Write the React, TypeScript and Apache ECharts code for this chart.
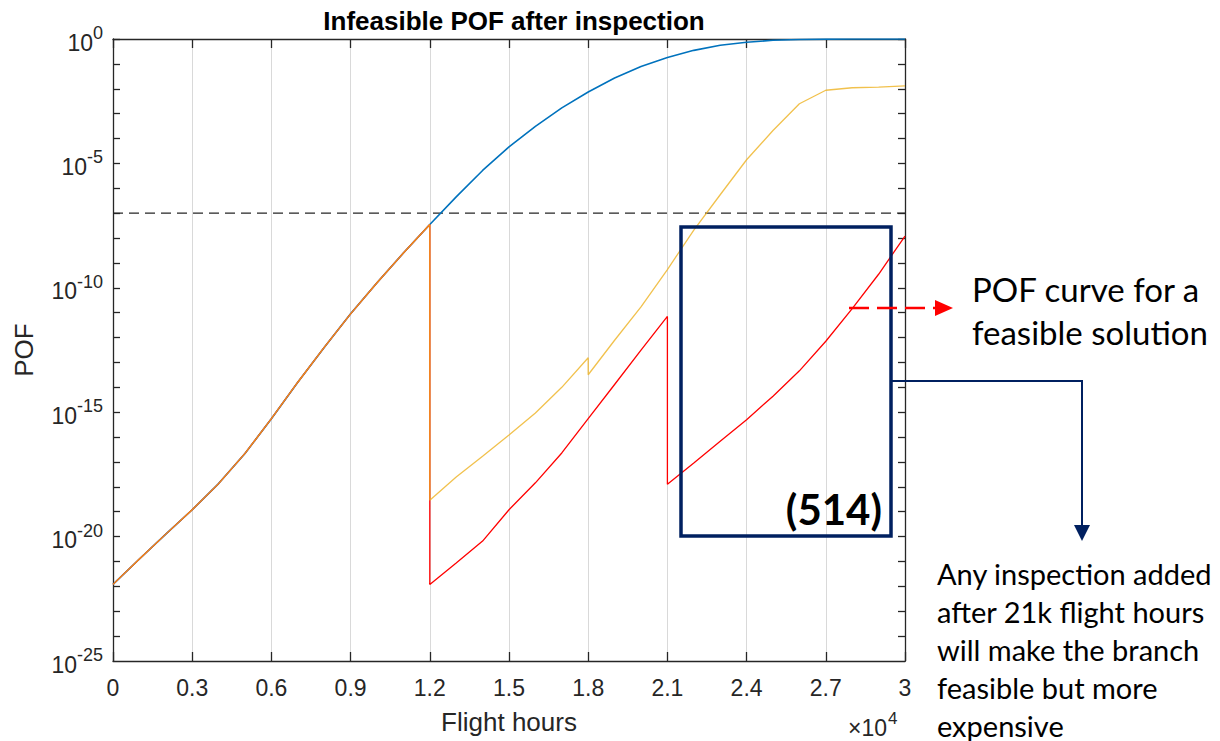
import React, { useEffect, useRef } from 'react';
import * as echarts from 'echarts';

// ---- data ----
const SHARED_HOURS = [0, 1000, 2000, 3000, 4000, 5000, 6000, 7000, 8000, 9000, 10000, 11000, 12000];
const SHARED_POF = [1.2e-22, 1.26e-21, 1.26e-20, 1.2e-19, 1.35e-18, 2.2e-17, 5.5e-16, 1.6e-14, 4e-13, 9e-12, 1.6e-10, 2.5e-9, 3.5e-8];

// no inspection (blue), continuation after 12k
const BLUE_HOURS = [13000, 14000, 15000, 16000, 17000, 18000, 19000, 20000, 21000, 22000, 23000, 24000, 25000, 26000, 27000, 28000, 29000, 30000];
const BLUE_POF = [4.5e-7, 5.2e-6, 4.6e-5, 3.1e-4, 1.7e-3, 7.4e-3, 2.7e-2, 7.9e-2, 0.18, 0.35, 0.56, 0.74, 0.89, 0.96, 0.985, 0.995, 0.998, 0.999];

// inspections at 12k and 21k (red, feasible)
const RED_HOURS = [12000, 13000, 14000, 15000, 16000, 17000, 18000, 19000, 20000, 21000, 21000, 22000, 23000, 24000, 25000, 26000, 27000, 28000, 29000, 30000];
const RED_POF = [1.2e-22, 8.7e-22, 6.6e-21, 1.2e-19, 1.45e-18, 2.3e-17, 5.5e-16, 1.3e-14, 3.1e-13, 7.1e-12, 1.26e-18, 9.1e-18, 6.8e-17, 5.0e-16, 4.4e-15, 4.6e-14, 7.1e-13, 1.45e-11, 3.5e-10, 1.2e-8];

// inspections at 12k and 18k (yellow, infeasible)
const YELLOW_HOURS = [12000, 13000, 14000, 15000, 16000, 17000, 18000, 18000, 19000, 20000, 21000, 22000, 23000, 24000, 25000, 26000, 27000, 28000, 29000, 30000];
const YELLOW_POF = [2.9e-19, 2.5e-18, 1.7e-17, 1.2e-16, 9.3e-16, 1.0e-14, 1.55e-13, 3.2e-14, 7.8e-13, 1.7e-11, 5.4e-10, 2.1e-8, 5.5e-7, 1.4e-5, 2.1e-4, 2.5e-3, 8.7e-3, 1.1e-2, 1.17e-2, 1.3e-2];

const THRESHOLD_HOURS = [0, 30000];
const THRESHOLD_POF = [1e-7, 1e-7];

const Y_LABEL_VALUES = [1e-25, 1e-20, 1e-15, 1e-10, 1e-5, 1];
const X_TICK_STEP = 3000;
const X_SCALE = 10000;

const TITLE = 'Infeasible POF after inspection';
const X_NAME = 'Flight hours';
const Y_NAME = 'POF';
const NOTE_FEASIBLE = 'POF curve for a\nfeasible solution';
const NOTE_BRANCH_LINES = ['Any inspection added', 'after 21k flight hours', 'will make the branch', 'feasible but more', 'expensive'];
const BOX_LABEL = '(514)';

const pairs = (xs: number[], ys: number[]) => xs.map((x, i) => [x, ys[i]]);

const AXIS_COLOR = '#262626';
const FONT = 'Liberation Sans, Arial, sans-serif';

export default function App() {
  const ref = useRef<HTMLDivElement>(null);

  useEffect(() => {
    const chart = echarts.init(ref.current!, null, { renderer: 'svg' });

    const axisLine = { show: true, onZero: false, lineStyle: { color: AXIS_COLOR, width: 1.3 } };
    const xTick = { show: true, inside: true, length: 9, lineStyle: { color: AXIS_COLOR, width: 1.3 } };
    const yTick = { show: true, inside: true, length: 7, lineStyle: { color: AXIS_COLOR, width: 1.3 } };

    const noteLines = NOTE_BRANCH_LINES.map((line, i) => ({
      type: 'text',
      z: 100,
      x: 937,
      y: 573 + i * 38,
      style: { text: line, align: 'left', verticalAlign: 'middle', font: '29px Lato, sans-serif', lineHeight: 26, fill: '#000' },
    }));

    const option: any = {
      animation: false,
      backgroundColor: '#ffffff',
      title: {
        text: TITLE,
        left: 509,
        top: 3,
        textAlign: 'center',
        textStyle: { fontFamily: FONT, fontWeight: 'bold', fontSize: 26, color: '#000' },
      },
      grid: { left: 113, right: 315, top: 39, bottom: 80, containLabel: false, outerBoundsMode: 'none' },
      xAxis: [
        {
          type: 'value',
          min: 0,
          max: 30000,
          interval: X_TICK_STEP,
          position: 'bottom',
          name: X_NAME,
          nameLocation: 'middle',
          nameGap: 48,
          nameMoveOverlap: false,
          nameTextStyle: { fontFamily: FONT, fontSize: 26, color: AXIS_COLOR },
          axisLine,
          axisTick: xTick,
          axisLabel: {
            fontFamily: FONT,
            fontSize: 23,
            color: AXIS_COLOR,
            margin: 15,
            showMinLabel: true,
            showMaxLabel: true,
            formatter: (v: number) => String(Math.round((v / X_SCALE) * 10) / 10),
          },
          splitLine: { show: true, lineStyle: { color: '#d9d9d9', width: 1 } },
        },
        {
          type: 'value',
          min: 0,
          max: 30000,
          interval: X_TICK_STEP,
          position: 'top',
          axisLine,
          axisTick: xTick,
          axisLabel: { show: false },
          splitLine: { show: false },
        },
      ],
      yAxis: [
        {
          type: 'log',
          logBase: 10,
          min: 1e-25,
          max: 1,
          interval: 1,
          position: 'left',
          name: Y_NAME,
          nameLocation: 'middle',
          nameGap: 76,
          nameRotate: 90,
          nameMoveOverlap: false,
          nameTextStyle: { fontFamily: FONT, fontSize: 26, color: AXIS_COLOR },
          axisLine,
          axisTick: yTick,
          minorTick: { show: false },
          splitLine: { show: false },
          axisLabel: {
            margin: 10,
            showMinLabel: true,
            showMaxLabel: true,
            hideOverlap: false,
            customValues: Y_LABEL_VALUES,
            formatter: (v: number) => {
              const e = Math.round(Math.log10(v));
              return `{b|10}{s|${e}}`;
            },
            rich: {
              b: { fontFamily: FONT, fontSize: 23, color: AXIS_COLOR, verticalAlign: 'bottom', lineHeight: 30 },
              s: { fontFamily: FONT, fontSize: 18, color: AXIS_COLOR, verticalAlign: 'top', lineHeight: 30 },
            },
          },
        },
        {
          type: 'log',
          logBase: 10,
          min: 1e-25,
          max: 1,
          interval: 1,
          position: 'right',
          axisLine,
          axisTick: yTick,
          minorTick: { show: false },
          splitLine: { show: false },
          axisLabel: { show: false },
        },
      ],
      series: [
        {
          name: 'No inspection',
          type: 'line',
          data: pairs(SHARED_HOURS.concat(BLUE_HOURS), SHARED_POF.concat(BLUE_POF)),
          showSymbol: false,
          symbol: 'none',
          silent: true,
          lineStyle: { color: '#0072BD', width: 1.6 },
          z: 2,
        },
        {
          name: 'Inspections at 12k and 21k',
          type: 'line',
          data: pairs(SHARED_HOURS.concat(RED_HOURS), SHARED_POF.concat(RED_POF)),
          showSymbol: false,
          symbol: 'none',
          silent: true,
          lineStyle: { color: '#FF0000', width: 1.3 },
          z: 3,
        },
        {
          name: 'Inspections at 12k and 18k',
          type: 'line',
          data: pairs(SHARED_HOURS.concat(YELLOW_HOURS), SHARED_POF.concat(YELLOW_POF)),
          showSymbol: false,
          symbol: 'none',
          silent: true,
          lineStyle: { color: '#EDB120', width: 1.3, opacity: 0.8 },
          z: 4,
        },
        {
          name: 'Threshold',
          type: 'line',
          data: pairs(THRESHOLD_HOURS, THRESHOLD_POF),
          showSymbol: false,
          symbol: 'none',
          silent: true,
          lineStyle: { color: AXIS_COLOR, width: 1.2, type: [10, 6] },
          z: 1,
        },
      ],
      graphic: [
        {
          type: 'rect',
          z: 100,
          shape: { x: 681, y: 227, width: 210, height: 309 },
          style: { fill: 'none', stroke: '#002060', lineWidth: 3.5 },
        },
        {
          type: 'text',
          z: 100,
          x: 882,
          y: 509,
          style: { text: BOX_LABEL, align: 'right', verticalAlign: 'middle', font: 'bold 42px Lato, sans-serif', fill: '#000' },
        },
        {
          type: 'line',
          z: 100,
          shape: { x1: 849, y1: 308, x2: 936, y2: 308 },
          style: { stroke: '#FF0000', lineWidth: 2.5, lineDash: [20, 8] },
        },
        {
          type: 'polygon',
          z: 100,
          shape: { points: [[935, 300], [953, 308], [935, 316]] },
          style: { fill: '#FF0000' },
        },
        {
          type: 'text',
          z: 100,
          x: 972,
          y: 310,
          style: { text: NOTE_FEASIBLE, align: 'left', verticalAlign: 'middle', font: '33px Lato, sans-serif', lineHeight: 43, fill: '#000' },
        },
        {
          type: 'polyline',
          z: 100,
          shape: { points: [[891, 381], [1082, 381], [1082, 527]] },
          style: { stroke: '#002060', lineWidth: 2, fill: 'none' },
        },
        {
          type: 'polygon',
          z: 100,
          shape: { points: [[1074, 525], [1090, 525], [1082, 541]] },
          style: { fill: '#002060' },
        },
        ...noteLines,
        {
          type: 'text',
          z: 100,
          x: 848,
          y: 728,
          style: { text: '×10', align: 'left', verticalAlign: 'middle', font: '23px Liberation Sans, Arial, sans-serif', fill: AXIS_COLOR },
        },
        {
          type: 'text',
          z: 100,
          x: 888,
          y: 718,
          style: { text: '4', align: 'left', verticalAlign: 'middle', font: '17px Liberation Sans, Arial, sans-serif', fill: AXIS_COLOR },
        },
      ],
    };

    chart.setOption(option);
    return () => chart.dispose();
  }, []);

  return (
    <div
      ref={ref}
      style={{ position: 'fixed', left: 0, top: 0, width: 1220, height: 741, background: '#fff' }}
    />
  );
}
